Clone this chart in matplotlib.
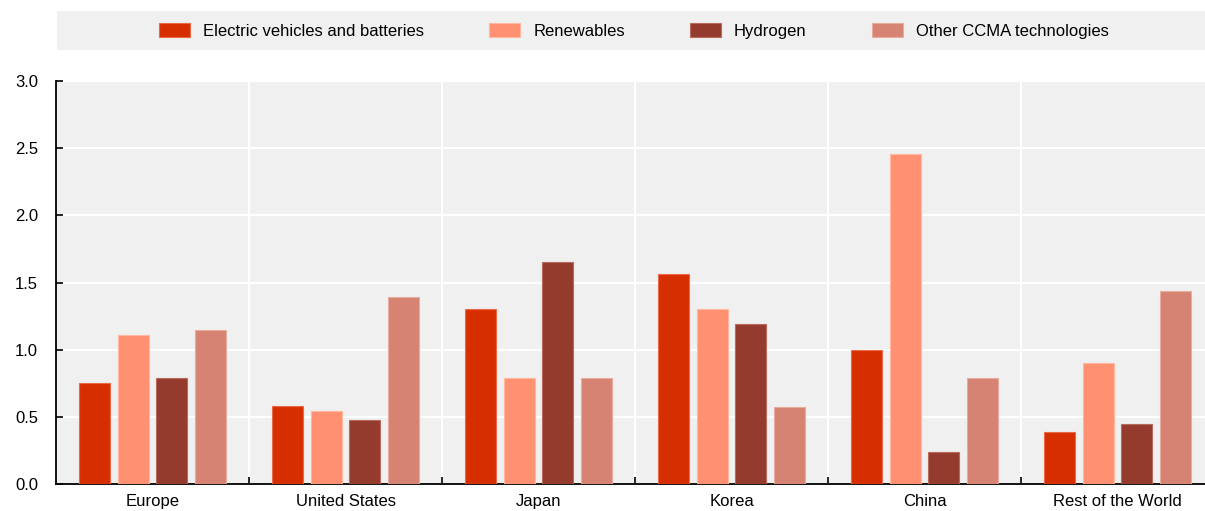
import numpy as np
import matplotlib.pyplot as plt
from matplotlib.patches import Rectangle
from matplotlib import font_manager

# Data
regions = ["Europe", "United States", "Japan", "Korea", "China", "Rest of the World"]
series_names = ["Electric vehicles and batteries", "Renewables", "Hydrogen", "Other CCMA technologies"]
ev = [0.75, 0.58, 1.30, 1.56, 1.00, 0.39]
renewables = [1.11, 0.54, 0.79, 1.30, 2.46, 0.90]
hydrogen = [0.79, 0.48, 1.65, 1.19, 0.24, 0.45]
other = [1.15, 1.39, 0.79, 0.57, 0.79, 1.44]

colors = ["#D72E00", "#FF9172", "#953B2E", "#D78373"]
edge_colors = ["#E86A4A", "#FFB79E", "#B86A5E", "#E8ABA0"]

installed = {f.name for f in font_manager.fontManager.ttflist}
if "Liberation Sans Narrow" in installed:
    plt.rcParams["font.family"] = ["Liberation Sans Narrow", "DejaVu Sans"]
else:
    plt.rcParams["font.family"] = ["Liberation Sans", "DejaVu Sans"]

fig = plt.figure(figsize=(12.05, 5.11), dpi=100)
ax = fig.add_axes([0.0465, 0.0528, 0.9535, 0.7887])
ax.set_facecolor("#F0F0F0")

x = np.arange(len(regions))
width = 0.16
offsets = [-0.3, -0.1, 0.1, 0.3]
for vals, name, c, ec, off in zip([ev, renewables, hydrogen, other], series_names, colors, edge_colors, offsets):
    ax.bar(x + off, vals, width, color=c, edgecolor=ec, linewidth=0.8, label=name, zorder=3)

ax.set_xlim(-0.5, 5.453)
ax.set_ylim(0, 3.0)
ax.set_yticks(np.arange(0, 3.01, 0.5))
ax.set_yticklabels([f"{v:.1f}" for v in np.arange(0, 3.01, 0.5)], fontsize=12)
ax.set_xticks(x)
ax.set_xticklabels(regions, fontsize=12)
ax.tick_params(axis="x", which="major", length=0, pad=7)
ax.set_xticks(np.arange(0.5, 5.5, 1.0), minor=True)
ax.tick_params(axis="x", which="minor", length=5, direction="in", width=1.2, color="black")
ax.tick_params(axis="y", length=5, direction="in", width=1.2, pad=13)

ax.grid(True, axis="y", color="white", linewidth=1.5, zorder=0)
ax.grid(True, axis="x", which="minor", color="white", linewidth=1.5, zorder=0)
ax.set_axisbelow(True)

for s in ["top", "right"]:
    ax.spines[s].set_visible(False)
ax.spines["left"].set_linewidth(1.3)
ax.spines["bottom"].set_linewidth(1.3)

# Legend band at the top
fig.patches.append(Rectangle((57 / 1205, 1 - 50 / 511), 1 - 57 / 1205, 39 / 511,
                             transform=fig.transFigure, facecolor="#F0F0F0", edgecolor="none", zorder=0))
handles, labels = ax.get_legend_handles_labels()
fig.legend(handles, labels, loc="center", bbox_to_anchor=(0.526, 1 - 31 / 511), ncol=4, frameon=False,
           fontsize=12, handlelength=1.85, handleheight=0.9, handletextpad=0.8, columnspacing=3.9)

fig.savefig("out.png", dpi=100)
